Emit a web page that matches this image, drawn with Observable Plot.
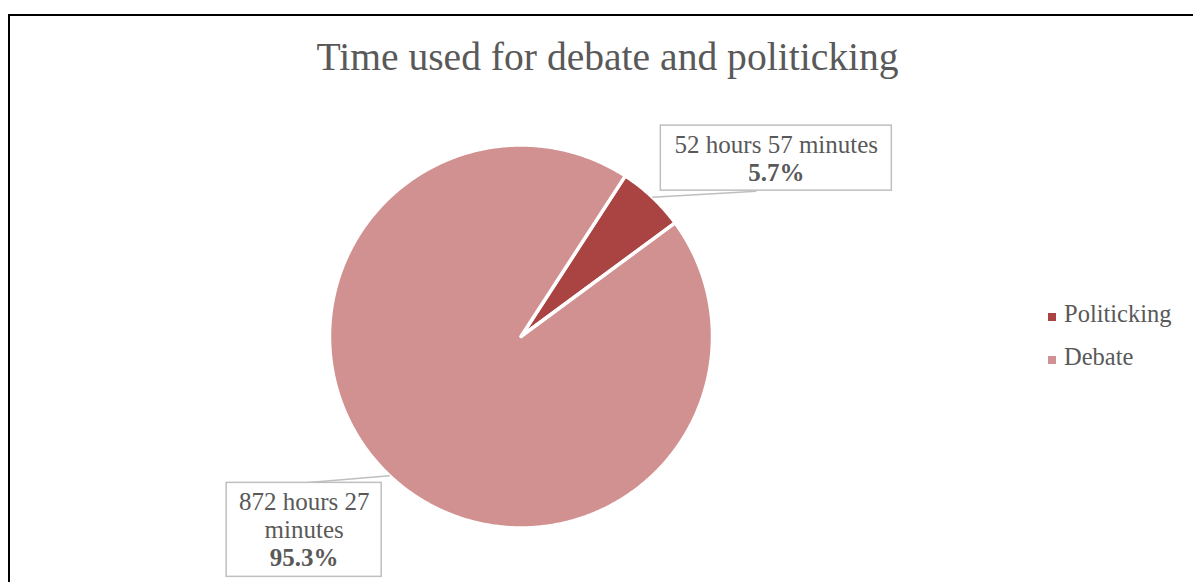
<!DOCTYPE html>
<html>
<head>
<meta charset="utf-8">
<script src="https://cdn.jsdelivr.net/npm/d3@7"></script>
<script src="https://cdn.jsdelivr.net/npm/@observablehq/plot@0.6"></script>
<style>
  html, body { margin: 0; padding: 0; background: #fff; width: 1193px; height: 582px; overflow: hidden; }
  body { position: relative; font-family: "Liberation Serif", serif; color: #595959; }
  #frame { position: absolute; left: 8px; top: 14px; width: 1200px; height: 600px;
           border-left: 2px solid #000; border-top: 2px solid #000; pointer-events: none; z-index: 5; }
  #header { position: relative; height: 100px; }
  #title { position: absolute; left: 11px; width: 1193px; top: 38px; text-align: center;
           font-size: 39.6px; line-height: 1; color: #595959; white-space: nowrap; }
  #legend { position: absolute; left: 1046px; top: 100px; font-size: 24.5px; color: #595959; }
  .item { position: absolute; left: 0; white-space: nowrap; line-height: 1; }
  .sw { position: absolute; left: 2px; width: 8px; height: 8px; }
  .lt { position: absolute; left: 18px; }
  #chart svg { display: block; }
</style>
</head>
<body>
<div id="frame"></div>
<div id="header"><div id="title">Time used for debate and politicking</div></div>
<div id="chart"></div>
<div id="legend"></div>
<script>
// ---- data ----
const categories = ["Politicking", "Debate"];
const minutes = [52 * 60 + 57, 872 * 60 + 27];
const timeLabels = ["52 hours 57 minutes", "872 hours 27 minutes"];
const percentLabels = ["5.7%", "95.3%"];
const colors = ["#A94442", "#D19190"];

// ---- layout (pixels; 1 data unit = 1 px) ----
const radius = 191.5;
const firstSliceAngle = 33; // degrees clockwise from 12 o'clock
const labelLayout = [
  {boxDx: 124, boxDy: 39, w: 231, h: 65, boldDy: -22.5, wrap: 20, leadDx: 104, leadDy: 6},
  {boxDx: -85.5, boxDy: -54, w: 155, h: 94, boldDy: -36, wrap: 7.2, leadDx: -84, leadDy: -7}
];

const table = categories.map((c, i) => ({name: c, value: minutes[i], time: timeLabels[i], pct: percentLabels[i], color: colors[i]}));
const arcs = d3.pie().sort(null).value(d => d.value)
  .startAngle(firstSliceAngle * Math.PI / 180)
  .endAngle(firstSliceAngle * Math.PI / 180 + 2 * Math.PI)(table);

// slice outlines
const slicePts = [];
arcs.forEach(a => {
  slicePts.push({name: a.data.name, x: 0, y: 0});
  const n = Math.max(2, Math.ceil((a.endAngle - a.startAngle) / (Math.PI / 360)));
  for (let k = 0; k <= n; k++) {
    const t = a.startAngle + (a.endAngle - a.startAngle) * k / n;
    slicePts.push({name: a.data.name, x: radius * Math.sin(t), y: radius * Math.cos(t)});
  }
  slicePts.push({name: a.data.name, x: 0, y: 0});
});

// label anchors
const labels = arcs.map((a, i) => {
  const m = (a.startAngle + a.endAngle) / 2;
  const ax = radius * Math.sin(m), ay = radius * Math.cos(m);
  const L = labelLayout[i];
  const cx = ax + L.boxDx, cy = ay + L.boxDy;
  return {
    ...a.data, ax, ay, cx, cy,
    x1: cx - L.w / 2, x2: cx + L.w / 2, y1: cy - L.h / 2, y2: cy + L.h / 2,
    lx: ax + L.leadDx, ly: ay + L.leadDy,
    by: cy + L.boldDy, ny: cy + L.boldDy + 28, wrap: L.wrap
  };
});

const textMarks = labels.map(l => [
  Plot.text([l], {x: "cx", y: "ny", text: "time", lineAnchor: "bottom", lineHeight: 1.12, lineWidth: l.wrap,
    fontSize: 25, fill: "#595959", fontFamily: "Liberation Serif", textAnchor: "middle"}),
  Plot.text([l], {x: "cx", y: "by", text: "pct", lineAnchor: "bottom", fontSize: 25, fontWeight: "bold",
    fill: "#595959", fontFamily: "Liberation Serif", textAnchor: "middle"})
]).flat();

const plot = Plot.plot({
  width: 1193,
  height: 482,
  margin: 0,
  x: {domain: [-520.5, 672.5], axis: null},
  y: {domain: [-246, 236], axis: null},
  color: {domain: categories, range: colors},
  style: {background: "transparent", overflow: "visible"},
  marks: [
    Plot.line(slicePts, {x: "x", y: "y", z: "name", fill: "name", stroke: "#fff", strokeWidth: 3.5,
      strokeLinejoin: "round", curve: "linear"}),
    Plot.link(labels, {x1: "ax", y1: "ay", x2: "lx", y2: "ly", stroke: "#BFBFBF", strokeWidth: 1.5}),
    Plot.rect(labels, {x1: "x1", x2: "x2", y1: "y1", y2: "y2", fill: "#fff", stroke: "#BFBFBF", strokeWidth: 1.5}),
    ...textMarks
  ]
});
document.getElementById("chart").appendChild(plot);

// legend
const legend = document.getElementById("legend");
categories.forEach((c, i) => {
  const item = document.createElement("div");
  item.className = "item";
  item.style.top = (202 + i * 43) + "px";
  item.innerHTML = `<span class="sw" style="background:${colors[i]};top:11px"></span><span class="lt">${c}</span>`;
  legend.appendChild(item);
});
</script>
</body>
</html>
